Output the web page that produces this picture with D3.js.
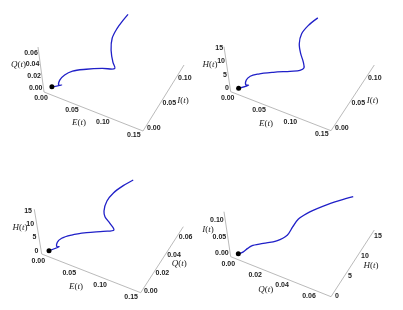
<!DOCTYPE html>
<html>
<head>
<meta charset="utf-8">
<script src="https://cdnjs.cloudflare.com/ajax/libs/d3/7.8.5/d3.min.js"></script>
<style>
  html, body { margin: 0; padding: 0; background: #fff; }
  svg { display: block; }
  .tick { font: bold 7px "Liberation Sans", Arial, sans-serif; fill: #222; filter: grayscale(1); }
  .name { font: italic 9px "Liberation Serif", "Times New Roman", serif; fill: #222; filter: grayscale(1); }
</style>
</head>
<body>
<div id="root"></div>
<script>
// values. depth along a projected axis can't be read
// exactly, so those are estimates
const ticksE = [0, 0.05, 0.1, 0.15]
const ticksI = [0, 0.05, 0.1]
const ticksQ = [0, 0.02, 0.04, 0.06]
const ticksH = [0, 5, 10, 15]

// top left: E, I, Q
const p1E = [0.0095, 0.026, 0.0204, 0.0225, 0.0307, 0.0431, 0.0644, 0.0877, 0.105, 0.0967, 0.0866, 0.0815, 0.0826, 0.0872, 0.0915]
const p1I = [0, 0.001, 0.002, 0.003, 0.005, 0.008, 0.012, 0.018, 0.025, 0.035, 0.05, 0.065, 0.08, 0.09, 0.1]
const p1Q = [0, 0.0089, 0.0058, 0.0143, 0.0245, 0.0338, 0.0425, 0.0486, 0.0497, 0.048, 0.0516, 0.0572, 0.0618, 0.068, 0.0724]

// top right: E, I, H
const p2E = [0.0089, 0.0258, 0.0208, 0.0219, 0.0281, 0.0406, 0.0636, 0.0879, 0.1022, 0.1061, 0.1011, 0.0886, 0.0785, 0.0748, 0.0811, 0.0926]
const p2I = [0, 0.001, 0.002, 0.003, 0.005, 0.008, 0.012, 0.018, 0.022, 0.027, 0.035, 0.05, 0.065, 0.08, 0.09, 0.1]
const p2H = [0, 2.47, 1.93, 3.74, 5.33, 6.78, 8.8, 10.3, 11.2, 11.5, 11.9, 11, 11, 11.6, 13.4, 15.5]

// bottom left: E, Q, H
const p3E = [0.0093, 0.026, 0.0216, 0.0233, 0.0299, 0.0441, 0.067, 0.0913, 0.1065, 0.0966, 0.0858, 0.0773, 0.0728, 0.0762, 0.0877, 0.1016]
const p3Q = [0.0004, 0.0021, 0.0025, 0.0026, 0.0042, 0.0074, 0.0103, 0.014, 0.0169, 0.0208, 0.0241, 0.0308, 0.0407, 0.0487, 0.0547, 0.0586]
const p3H = [0, 2.47, 1.93, 3.74, 5.33, 6.78, 8.8, 10.3, 11.2, 11.5, 11.9, 11, 11, 11.6, 13.4, 15.5]

// bottom right: Q, H, I
const p4Q = [0.0053, 0.0075, 0.0093, 0.011, 0.0174, 0.0258, 0.031, 0.0325, 0.034, 0.0388, 0.0491, 0.0579, 0.065]
const p4H = [0, 0.8, 1.6, 2.3, 3.5, 4.5, 6, 7.5, 9, 10, 11.5, 13.5, 15]
const p4I = [0.0042, 0.004, 0.0076, 0.0097, 0.0127, 0.0218, 0.0292, 0.0384, 0.0459, 0.0586, 0.0796, 0.0867, 0.0912]

const panels = [
  {
    origin: [44, 92], bottomEnd: [143, 131], topEnd: [38, 47], depthEnd: [184, 65],
    bottom: { domain: [0, 0.16], ticks: ticksE, fmt: '.2f', off: [-3, 5.5], name: 'E(t)', at: [79, 122] },
    depth: { domain: [-0.008, 0.124], ticks: ticksI, fmt: '.2f', off: [1.5, 0], name: 'I(t)', at: [183, 100] },
    up: { domain: [-0.006, 0.0707], ticks: ticksQ, fmt: '.2f', off: [-1, -1.2], name: 'Q(t)', at: [18.5, 64] },
    curve: [p1E, p1I, p1Q],
  },
  {
    origin: [230.7, 91.7], bottomEnd: [331, 130.7], topEnd: [224, 46.7], depthEnd: [374.3, 65],
    bottom: { domain: [0, 0.16], ticks: ticksE, fmt: '.2f', off: [-3, 5.5], name: 'E(t)', at: [266, 123] },
    depth: { domain: [-0.008, 0.124], ticks: ticksI, fmt: '.2f', off: [1.5, 0.5], name: 'I(t)', at: [372.5, 100] },
    up: { domain: [-0.65, 16.4], ticks: ticksH, fmt: 'd', off: [-1.5, -2.7], name: 'H(t)', at: [210, 64] },
    curve: [p2E, p2I, p2H],
  },
  {
    origin: [41.7, 254], bottomEnd: [140.7, 292.7], topEnd: [34.3, 209.3], depthEnd: [183.3, 226.7],
    bottom: { domain: [0, 0.16], ticks: ticksE, fmt: '.2f', off: [-3.4, 6.3], name: 'E(t)', at: [76, 286] },
    depth: { domain: [-0.003, 0.0703], ticks: ticksQ, fmt: '.2f', off: [1.5, 1], name: 'Q(t)', at: [179.3, 262.5] },
    up: { domain: [-0.95, 16.1], ticks: ticksH, fmt: 'd', off: [-2.8, -1.5], name: 'H(t)', at: [20, 227] },
    curve: [p3E, p3Q, p3H],
  },
  {
    origin: [230.7, 256.7], bottomEnd: [331, 296.7], topEnd: [224, 211.7], depthEnd: [374.3, 230],
    bottom: { domain: [0, 0.0746], ticks: ticksQ, fmt: '.2f', off: [-2.4, 6.6], name: 'Q(t)', at: [265.7, 289] },
    depth: { domain: [-0.42, 16.25], ticks: ticksH, fmt: 'd', off: [3, 0], name: 'H(t)', at: [371, 265] },
    up: { domain: [-0.008, 0.1267], ticks: ticksI, fmt: '.2f', off: [-1.6, -1.3], name: 'I(t)', at: [208, 229] },
    curve: [p4Q, p4H, p4I],
  },
]

const svg = d3.select('#root').append('svg')
  .attr('width', 403)
  .attr('height', 310)

// a scale pair per axis, both measured as an offset from the box corner
function axisScales(domain, vec) {
  return {
    x: d3.scaleLinear().domain(domain).range([0, vec[0]]),
    y: d3.scaleLinear().domain(domain).range([0, vec[1]]),
  }
}

function nameText(g, label, at) {
  // the letter is italic, the brackets are not
  const m = label.match(/^(.)\((.)\)$/)
  const t = g.append('text').attr('class', 'name')
    .attr('x', at[0]).attr('y', at[1])
    .attr('text-anchor', 'middle').attr('dominant-baseline', 'central')
  t.append('tspan').text(m[1])
  t.append('tspan').attr('font-style', 'normal').text('(')
  t.append('tspan').text(m[2])
  t.append('tspan').attr('font-style', 'normal').text(')')
}

function drawPanel(p) {
  const g = svg.append('g')
  const [ox, oy] = p.origin
  const bVec = [p.bottomEnd[0] - ox, p.bottomEnd[1] - oy]
  const uVec = [p.topEnd[0] - ox, p.topEnd[1] - oy]
  const dVec = [p.depthEnd[0] - p.bottomEnd[0], p.depthEnd[1] - p.bottomEnd[1]]

  const b = axisScales(p.bottom.domain, bVec)
  const d = axisScales(p.depth.domain, dVec)
  const u = axisScales(p.up.domain, uVec)

  const axisLines = [
    [p.origin, p.bottomEnd],
    [p.origin, p.topEnd],
    [p.bottomEnd, p.depthEnd],
  ]
  g.selectAll('line').data(axisLines).join('line')
    .attr('x1', l => l[0][0]).attr('y1', l => l[0][1])
    .attr('x2', l => l[1][0]).attr('y2', l => l[1][1])
    .attr('stroke', '#a8a8a8').attr('stroke-width', 0.8)

  const tickLabels = (axis, scale, base, anchor) => {
    const f = d3.format(axis.fmt)
    g.append('g').selectAll('text').data(axis.ticks).join('text')
      .attr('class', 'tick')
      .attr('x', v => base[0] + scale.x(v) + axis.off[0])
      .attr('y', v => base[1] + scale.y(v) + axis.off[1])
      .attr('text-anchor', anchor)
      .attr('dominant-baseline', 'central')
      .text(f)
    nameText(g, axis.name, axis.at)
  }
  tickLabels(p.bottom, b, p.origin, 'middle')
  tickLabels(p.depth, d, p.bottomEnd, 'start')
  tickLabels(p.up, u, p.origin, 'end')

  const [c1, c2, c3] = p.curve
  const pts = d3.range(c1.length).map(i => [
    ox + b.x(c1[i]) + d.x(c2[i]) + u.x(c3[i]),
    oy + b.y(c1[i]) + d.y(c2[i]) + u.y(c3[i]),
  ])

  const line = d3.line().curve(d3.curveCatmullRom.alpha(0.5))
  g.append('path')
    .attr('d', line(pts))
    .attr('fill', 'none')
    .attr('stroke', '#2020c8')
    .attr('stroke-width', 1.3)

  g.append('circle')
    .attr('cx', pts[0][0]).attr('cy', pts[0][1])
    .attr('r', 2.5)
    .attr('fill', '#000')
}

panels.forEach(drawPanel)
</script>
</body>
</html>
